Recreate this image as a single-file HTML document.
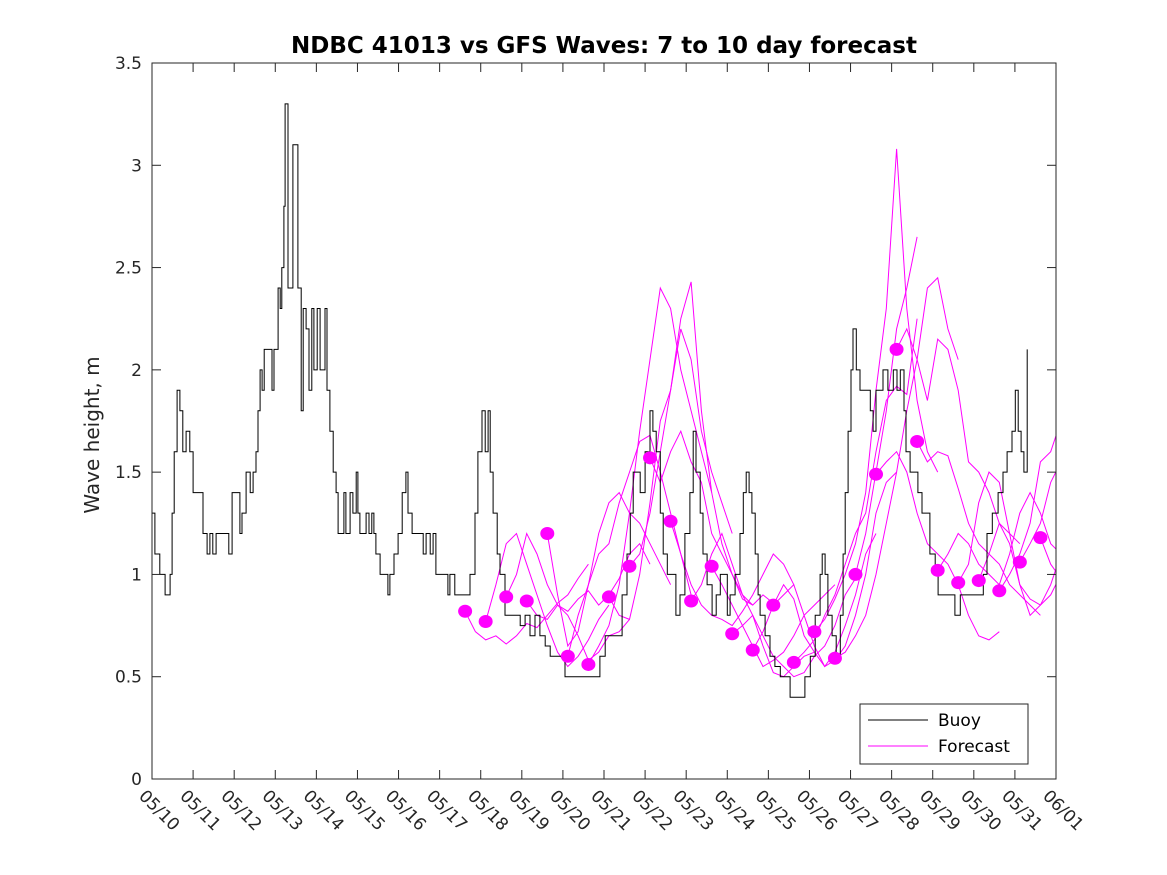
<!DOCTYPE html>
<html><head><meta charset="utf-8">
<style>
body{margin:0;background:#fff;}
svg{display:block;font-family:"DejaVu Sans","Liberation Sans",sans-serif;}
</style></head>
<body>
<svg id="chart" width="1167" height="875" viewBox="0 0 1167 875" xmlns="http://www.w3.org/2000/svg">
<rect width="1167" height="875" fill="#fff"/>
<defs><clipPath id="pc"><rect x="152" y="63" width="904" height="716"/></clipPath></defs>
<text x="604" y="53" text-anchor="middle" font-size="23" font-weight="bold" fill="#000">NDBC 41013 vs GFS Waves: 7 to 10 day forecast</text>
<text transform="translate(99,435) rotate(-90)" text-anchor="middle" font-size="20" fill="#262626">Wave height, m</text>
<g id="grid"></g>
<g id="series" clip-path="url(#pc)"></g>
<rect x="152" y="63" width="904" height="716" fill="none" stroke="#262626" stroke-width="1"/>
<g id="axes"></g>
<g>
<rect x="860" y="704" width="168" height="60" fill="#fff" stroke="#262626" stroke-width="1"/>
<line x1="868" y1="720" x2="928" y2="720" stroke="#000" stroke-width="1"/>
<text x="938" y="726" font-size="17" fill="#000">Buoy</text>
<line x1="868" y1="746" x2="928" y2="746" stroke="#ff00ff" stroke-width="1"/>
<text x="938" y="752" font-size="17" fill="#000">Forecast</text>
</g>
</svg>
<script>
const xTickLabels=["05/10","05/11","05/12","05/13","05/14","05/15","05/16","05/17","05/18","05/19","05/20","05/21","05/22","05/23","05/24","05/25","05/26","05/27","05/28","05/29","05/30","05/31","06/01"];
const yTicks=[0,0.5,1,1.5,2,2.5,3,3.5];
const yTickLabels=["0","0.5","1","1.5","2","2.5","3","3.5"];
const buoyDays=[0,0.07,0.19,0.32,0.39,0.44,0.49,0.54,0.61,0.68,0.75,0.83,0.92,1.00,1.17,1.24,1.34,1.41,1.48,1.56,1.87,1.95,2.09,2.14,2.19,2.29,2.39,2.46,2.53,2.58,2.63,2.68,2.73,2.87,2.92,2.97,3.07,3.12,3.16,3.21,3.24,3.31,3.36,3.43,3.50,3.55,3.63,3.68,3.75,3.82,3.89,3.94,4.02,4.09,4.21,4.26,4.33,4.41,4.48,4.53,4.67,4.72,4.82,4.89,4.97,5.01,5.06,5.21,5.28,5.35,5.40,5.45,5.55,5.70,5.74,5.79,5.89,5.99,6.09,6.18,6.23,6.33,6.52,6.60,6.67,6.77,6.84,6.91,7.11,7.20,7.25,7.37,7.64,7.74,7.86,7.93,8.03,8.11,8.18,8.23,8.30,8.40,8.47,8.59,8.84,8.96,9.08,9.20,9.32,9.44,9.57,9.69,9.93,10.05,10.86,10.90,11.03,11.39,11.44,11.56,11.64,11.71,11.88,12.00,12.12,12.19,12.27,12.37,12.44,12.54,12.66,12.75,12.85,12.97,13.09,13.17,13.24,13.34,13.41,13.51,13.63,13.73,13.83,14.00,14.07,14.19,14.31,14.39,14.46,14.53,14.60,14.68,14.75,14.80,14.92,15.04,15.16,15.29,15.53,15.77,15.89,16.02,16.14,16.26,16.31,16.38,16.45,16.55,16.65,16.75,16.82,16.87,16.94,17.01,17.06,17.14,17.23,17.48,17.55,17.62,17.79,17.91,18.04,18.13,18.21,18.30,18.35,18.45,18.64,18.74,18.93,19.06,19.13,19.54,19.67,20.23,20.32,20.45,20.59,20.71,20.81,20.93,21.01,21.08,21.15,21.22,21.30];
const buoyValues=[1.3,1.1,1.0,0.9,0.9,1.0,1.3,1.6,1.9,1.8,1.6,1.7,1.6,1.4,1.4,1.2,1.1,1.2,1.1,1.2,1.1,1.4,1.4,1.2,1.3,1.5,1.4,1.5,1.6,1.8,2.0,1.9,2.1,2.1,1.9,2.1,2.4,2.3,2.5,2.8,3.3,2.4,2.4,3.1,3.1,2.4,1.8,2.3,2.2,1.9,2.3,2.0,2.3,2.0,2.3,1.9,1.7,1.5,1.4,1.2,1.4,1.2,1.4,1.3,1.5,1.3,1.2,1.3,1.2,1.3,1.2,1.1,1.0,1.0,0.9,1.0,1.1,1.2,1.4,1.5,1.3,1.2,1.2,1.1,1.2,1.1,1.2,1.0,1.0,0.9,1.0,0.9,0.9,1.0,1.3,1.6,1.8,1.6,1.8,1.5,1.3,1.1,1.0,0.8,0.8,0.75,0.8,0.7,0.8,0.7,0.65,0.6,0.6,0.5,0.5,0.6,0.7,0.7,0.9,1.1,1.3,1.5,1.4,1.6,1.8,1.7,1.6,1.3,1.1,1.0,1.0,0.8,0.9,1.2,1.4,1.7,1.5,1.3,1.1,0.95,0.8,0.9,1.0,0.8,0.9,1.0,1.2,1.4,1.5,1.4,1.3,1.1,0.9,0.8,0.7,0.6,0.55,0.5,0.4,0.4,0.5,0.6,0.8,1.0,1.1,1.0,0.8,0.7,0.6,0.8,1.1,1.4,1.7,2.0,2.2,2.0,1.9,1.8,1.7,1.9,2.0,1.9,2.0,1.9,2.0,1.8,1.6,1.5,1.4,1.3,1.1,1.0,0.9,0.8,0.9,1.0,1.2,1.3,1.4,1.5,1.6,1.7,1.9,1.7,1.6,1.5,2.1];
const dotStartDay=7.62, dotStepDay=0.5;
const dotValues=[0.82,0.77,0.89,0.87,1.20,0.60,0.56,0.89,1.04,1.57,1.26,0.87,1.04,0.71,0.63,0.85,0.57,0.72,0.59,1.00,1.49,2.10,1.65,1.02,0.96,0.97,0.92,1.06,1.18];
const fcStepDay=0.25;
const fc01=[0.82,0.72,0.68,0.70,0.66,0.70,0.76,0.74,0.80,0.86,0.90,0.98,1.05];
const fc02=[0.77,0.95,1.15,1.20,1.05,0.90,0.75,0.62,0.55,0.60,0.68,0.78,0.85];
const fc03=[0.89,1.00,1.20,1.10,0.95,0.85,0.80,0.70,0.58,0.62,0.70,0.72,0.78];
const fc04=[0.87,0.80,0.78,0.85,0.82,0.88,0.92,0.85,0.90,0.98,1.10,1.15,1.05];
const fc05=[1.20,0.90,0.65,0.72,0.95,1.20,1.35,1.40,1.30,1.25,1.15,1.05,0.95];
const fc06=[0.60,0.80,0.95,1.10,1.15,1.35,1.50,1.65,1.68,1.50,1.30,1.10,0.90];
const fc07=[0.56,0.65,0.75,0.95,1.30,1.70,2.05,2.40,2.30,2.00,1.80,1.60,1.40];
const fc08=[0.89,0.80,0.78,1.00,1.35,1.75,1.90,2.20,2.05,1.70,1.50,1.35,1.20];
const fc09=[1.04,1.10,1.30,1.60,1.90,2.25,2.43,1.80,1.40,1.15,1.00,0.90,0.85];
const fc10=[1.57,1.45,1.60,1.70,1.55,1.45,1.20,1.10,1.00,0.88,0.85,0.90,0.86];
const fc11=[1.26,1.10,0.95,0.85,0.80,0.78,0.75,0.82,0.90,1.00,1.10,1.05,0.95];
const fc12=[0.87,0.95,1.10,1.20,1.05,0.90,0.80,0.65,0.52,0.50,0.55,0.60,0.62];
const fc13=[1.04,0.95,0.85,0.75,0.65,0.55,0.58,0.62,0.70,0.80,0.85,0.90,0.95];
const fc14=[0.71,0.75,0.80,0.70,0.60,0.55,0.50,0.52,0.60,0.65,0.75,0.90,0.98];
const fc15=[0.63,0.72,0.85,0.95,0.88,0.70,0.62,0.55,0.62,0.75,0.90,1.10,1.20];
const fc16=[0.85,0.90,0.95,0.80,0.65,0.55,0.58,0.65,0.80,1.00,1.30,1.45,1.50];
const fc17=[0.57,0.62,0.68,0.80,0.90,1.05,1.20,1.30,1.60,1.85,1.92,1.88,2.25];
const fc18=[0.72,0.78,0.88,1.00,1.15,1.40,1.90,2.30,3.08,2.30,1.85,1.60,1.50];
const fc19=[0.59,0.62,0.70,0.80,1.00,1.25,1.50,1.80,2.05,2.40,2.45,2.20,2.05];
const fc20=[1.00,1.20,1.50,1.80,2.20,2.40,2.65];
const fc21=[1.49,1.55,1.60,1.50,1.30,1.15,1.10,1.05,0.95,0.80,0.70,0.68,0.72];
const fc22=[2.10,2.20,2.05,1.85,2.15,2.10,1.90,1.55,1.50,1.40,1.25,1.20,1.15];
const fc23=[1.65,1.55,1.60,1.58,1.42,1.25,1.15,1.10,1.05,0.95,0.90,0.85,0.80];
const fc24=[1.02,1.10,1.20,1.15,1.05,1.00,0.95,1.10,1.30,1.40,1.30,1.15,1.10];
const fc25=[0.96,1.05,1.35,1.50,1.45,1.20,0.95,0.80,0.85,0.90,1.00,1.20,1.38];
const fc26=[0.97,1.10,1.25,1.15,0.95,0.88,0.85,0.95,1.10,1.25,1.40,1.30,1.15];
const fc27=[0.92,1.00,1.10,1.25,1.55,1.60,1.75,1.70,1.85,1.75,1.70,1.87];
const fc28=[1.06,1.15,1.25,1.45,1.55,1.50,1.68];
const fc29=[1.18,1.05,0.98,1.15,1.25];
const forecasts=[fc01,fc02,fc03,fc04,fc05,fc06,fc07,fc08,fc09,fc10,fc11,fc12,fc13,fc14,fc15,fc16,fc17,fc18,fc19,fc20,fc21,fc22,fc23,fc24,fc25,fc26,fc27,fc28,fc29];

const NS="http://www.w3.org/2000/svg";
const X0=152,X1=1056,Y0=779,Y1=63,DMAX=22,VMAX=3.5;
function xs(d){return X0+(X1-X0)*d/DMAX;}
function ys(v){return Y0-(Y0-Y1)*v/VMAX;}
function mk(tag,attrs,parent){const e=document.createElementNS(NS,tag);for(const k in attrs)e.setAttribute(k,attrs[k]);parent.appendChild(e);return e;}
const axes=document.getElementById('axes'),series=document.getElementById('series');

xTickLabels.forEach((lab,i)=>{
  const x=xs(i);
  const t1=mk('line',{x1:x,y1:Y0,x2:x,y2:Y0-9,stroke:'#262626'},axes);
  
  
  const t2=mk('line',{x1:x,y1:Y1,x2:x,y2:Y1+9,stroke:'#262626'},axes);
  
  
  const tx=mk('text',{transform:`translate(${x-14},${Y0+18}) rotate(45)`,'font-size':17,fill:'#262626'},axes);
  tx.textContent=lab;
  
  
});
yTicks.forEach((v,i)=>{
  const y=ys(v);
  const t1=mk('line',{x1:X0,y1:y,x2:X0+9,y2:y,stroke:'#262626'},axes);
  
  
  const t2=mk('line',{x1:X1,y1:y,x2:X1-9,y2:y,stroke:'#262626'},axes);
  
  
  const tx=mk('text',{x:X0-10,y:y+6,'text-anchor':'end','font-size':17,fill:'#262626'},axes);
  tx.textContent=yTickLabels[i];
  
  
});

forecasts.forEach((arr,i)=>{
  const start=dotStartDay+dotStepDay*i;
  const pts=arr.map((v,j)=>xs(start+j*fcStepDay).toFixed(1)+','+ys(v).toFixed(1)).join(' ');
  const pl=mk('polyline',{points:pts,fill:'none',stroke:'#ff00ff','stroke-width':1},series);
  
  
});

let d='';
buoyDays.forEach((t,i)=>{
  const x=xs(t).toFixed(1),y=ys(buoyValues[i]).toFixed(1);
  if(i===0)d+=`M${x},${y}`;else d+=`L${x},${ys(buoyValues[i-1]).toFixed(1)}L${x},${y}`;
});
const bp=mk('path',{d:d,fill:'none',stroke:'#000','stroke-width':1},series);



dotValues.forEach((v,i)=>{
  const c=mk('ellipse',{cx:xs(dotStartDay+dotStepDay*i),cy:ys(v),rx:7,ry:6.5,fill:'#ff00ff'},series);
  
  
});
</script>
</body></html>
